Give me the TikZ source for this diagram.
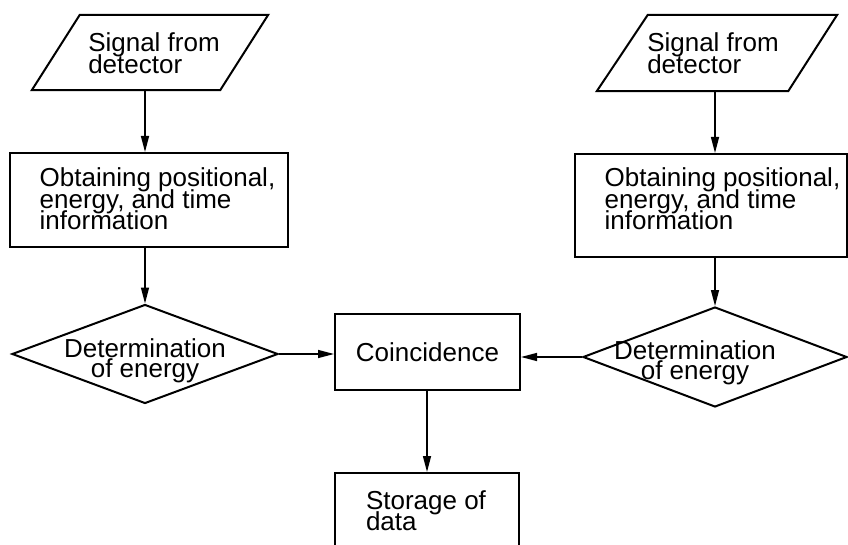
\documentclass[tikz,border=0pt]{standalone}
\usepackage{fontspec}
\setmainfont{Liberation Sans}
\usetikzlibrary{shapes.geometric,arrows.meta}
\newcommand{\lblfont}{\fontsize{26}{21.5}\selectfont\lineskiplimit-50pt\relax}
\newcommand{\dlblfont}{\fontsize{26}{20}\selectfont\lineskiplimit-50pt\relax}
\begin{document}
\begin{tikzpicture}[x=1pt,y=-1pt,
  lbl/.style={font=\lblfont, inner sep=0pt},
  dlbl/.style={font=\dlblfont, inner sep=0pt},
  shp/.style={draw, line width=2pt, inner sep=0pt},
  holder/.style={rectangle, inner sep=0pt},
  box/.style={shp, rectangle},
  dia/.style={shp, diamond},
  arr/.style={line width=1.4pt, -{Triangle[length=16pt,width=8pt]}}]
\useasboundingbox (0,0) rectangle (848,545);
\clip (0,0) rectangle (848,545);
% top row: parallelograms
\node[holder, minimum width=236pt, minimum height=75pt] (p1) at (150,52.5) {};
\draw[shp] ([xshift=48pt]p1.north west) -- (p1.north east) -- ([xshift=-48pt]p1.south east) -- (p1.south west) -- cycle;
\node[lbl, align=left] (t1) at (154,53) {Signal from\\detector};
\node[holder, minimum width=240pt, minimum height=76pt] (p2) at (717,53) {};
\draw[shp] ([xshift=51pt]p2.north west) -- (p2.north east) -- ([xshift=-49pt]p2.south east) -- (p2.south west) -- cycle;
\node[lbl, align=left] (t2) at (713,53) {Signal from\\detector};
% processing boxes
\node[box, minimum width=278pt, minimum height=94pt] (b1) at (149,200) {};
\node[lbl, align=left] (tb1) at (157.5,199) {Obtaining positional,\\energy, and time\\information};
\node[box, minimum width=272pt, minimum height=103pt] (b2) at (711,205.5) {};
\node[lbl, align=left] (tb2) at (722.5,199) {Obtaining positional,\\energy, and time\\information};
% diamonds
\node[dia, minimum width=266pt, minimum height=99pt] (d1) at (145,354) {};
\node[dlbl, align=center] (td1) at (145,361) {Determination\\of energy};
\node[dia, minimum width=264pt, minimum height=100pt] (d2) at (715,357) {};
\node[dlbl, align=center] (td2) at (695,363) {Determination\\of energy};
% coincidence and storage
\node[box, lbl, line width=2pt, minimum width=185pt, minimum height=76pt] (c) at (427.5,352) {Coincidence};
\node[box, minimum width=184pt, minimum height=90pt] (s) at (427,518) {};
\node[lbl, align=left] (ts) at (426,510.5) {Storage of\\data};
% connectors
\draw[arr] (d1.north |- p1.south) -- (d1.north |- b1.north);
\draw[arr] (d1.north |- b1.south) -- (d1.north);
\draw[arr] (d2.north |- p2.south) -- (d2.north |- b2.north);
\draw[arr] (d2.north |- b2.south) -- (d2.north);
\draw[arr] (d1.east) -- (d1.east -| c.west);
\draw[arr] (d2.west) -- (d2.west -| c.east);
\draw[arr] (s.north |- c.south) -- (s.north);
\end{tikzpicture}
\end{document}
